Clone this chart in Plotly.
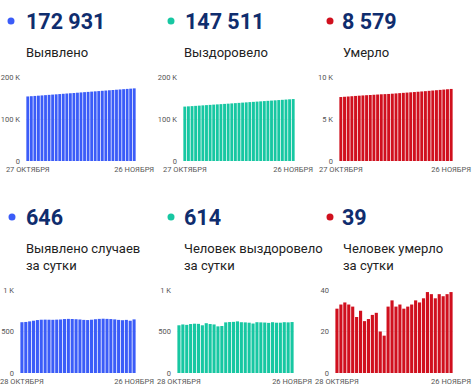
import plotly.graph_objects as go

W, H = 473, 392

# ---------------- data ----------------
dates_total = ["27 октября"] + [f"{d} октября" for d in range(28, 32)] + [f"{d} ноября" for d in range(1, 27)]
dates_daily = dates_total[1:]

detected_total = [153698, 154310, 154925, 155547, 156177, 156815, 157457, 158100, 158742, 159383,
                  160026, 160671, 161321, 161973, 162624, 163272, 163917, 164557, 165195, 165837,
                  166485, 167137, 167791, 168443, 169093, 169739, 170379, 171015, 171655, 172285, 172931]
recovered_total = [129537, 130112, 130697, 131277, 131867, 132461, 133053, 133628, 134228, 134818,
                   135403, 135965, 136531, 137141, 137755, 138371, 138993, 139605, 140215, 140821,
                   141417, 142029, 142639, 143247, 143851, 144463, 145069, 145675, 146287, 146897, 147511]
deaths_total = [7615, 7646, 7679, 7713, 7746, 7778, 7805, 7835, 7860, 7886, 7914, 7943, 7963, 7981,
                8013, 8048, 8080, 8113, 8144, 8176, 8209, 8244, 8278, 8314, 8353, 8391, 8427, 8465,
                8502, 8540, 8579]

detected_daily = [612, 615, 622, 630, 638, 642, 643, 642, 641, 643, 645, 650, 652, 651, 648,
                  645, 640, 638, 642, 648, 652, 654, 652, 650, 646, 640, 636, 640, 630, 646]
recovered_daily = [575, 585, 580, 590, 594, 592, 575, 600, 590, 585, 562, 566, 610, 614, 616,
                   622, 612, 610, 606, 596, 612, 610, 608, 604, 612, 606, 606, 612, 610, 614]
deaths_daily = [31, 33, 34, 33, 32, 27, 30, 25, 26, 28, 29, 20, 18, 32, 35, 32, 33, 31, 32, 33,
                35, 34, 36, 39, 38, 36, 38, 37, 38, 39]

headline_values = ["172 931", "147 511", "8 579", "646", "614", "39"]
headline_labels = ["Выявлено", "Выздоровело", "Умерло",
                   "Выявлено случаев<br>за сутки", "Человек выздоровело<br>за сутки",
                   "Человек умерло<br>за сутки"]

x_ticktext_total = ["27 ОКТЯБРЯ", "26 НОЯБРЯ"]
x_ticktext_daily = ["28 ОКТЯБРЯ", "26 НОЯБРЯ"]

y_ticks = [
    ([0, 100000, 200000], ["0", "100 K", "200 K"], 200000),
    ([0, 100000, 200000], ["0", "100 K", "200 K"], 200000),
    ([0, 5000, 10000], ["0", "5 K", "10 K"], 10000),
    ([0, 500, 1000], ["0", "500", "1 K"], 1000),
    ([0, 500, 1000], ["0", "500", "1 K"], 1000),
    ([0, 20, 40], ["0", "20", "40"], 40),
]

# ---------------- style ----------------
BLUE = "#3b5cf8"
TEAL = "#17c7a2"
RED = "#d0101e"
NAVY = "#0f2d6e"
colors = [BLUE, TEAL, RED, BLUE, TEAL, RED]
FONT = "Roboto"

series = [
    (dates_total, detected_total, x_ticktext_total),
    (dates_total, recovered_total, x_ticktext_total),
    (dates_total, deaths_total, x_ticktext_total),
    (dates_daily, detected_daily, x_ticktext_daily),
    (dates_daily, recovered_daily, x_ticktext_daily),
    (dates_daily, deaths_daily, x_ticktext_daily),
]

# pixel layout
plot_x = [(26, 136), (183, 295), (339, 453), (20, 136), (177, 294), (335, 453)]
plot_y = [(77, 161), (77, 161), (77, 161), (290, 373), (290, 373), (290, 373)]
num_x = [24, 183, 340, 24, 182, 340]
dot_x = [11, 171, 330, 12, 171, 330]
row_num_y = [21, 21, 21, 217, 217, 217]
label_x = [25, 183, 342, 25, 183, 342]
label_y = [43, 43, 43, 239, 239, 239]


def px(x):
    return x / W


def py(y):
    return 1 - y / H


fig = go.Figure()
layout = dict(
    template="none",
    width=W, height=H, margin=dict(l=0, r=0, t=0, b=0, pad=0),
    paper_bgcolor="white", plot_bgcolor="white", showlegend=False,
    font=dict(family=FONT, size=8, color="#555"),
    annotations=[], shapes=[],
)

for i, (cats, vals, xtt) in enumerate(series):
    n = i + 1
    xa = "x" if n == 1 else f"x{n}"
    ya = "y" if n == 1 else f"y{n}"
    fig.add_trace(go.Bar(x=cats, y=vals, marker=dict(color=colors[i], line=dict(width=0)),
                         xaxis=xa, yaxis=ya, hoverinfo="skip"))
    tv, tt, top = y_ticks[i]
    layout[f"xaxis{n if n > 1 else ''}"] = dict(
        domain=[px(plot_x[i][0]), px(plot_x[i][1])], anchor=ya, automargin=False,
        type="category", tickmode="array", tickvals=[cats[0], cats[-1]], ticktext=xtt,
        showgrid=False, showline=False, zeroline=False, ticks="",
        tickfont=dict(size=7.5, color="#555"), ticklabelstandoff=2,
    )
    layout[f"yaxis{n if n > 1 else ''}"] = dict(
        domain=[py(plot_y[i][1]), py(plot_y[i][0])], anchor=xa, automargin=False,
        range=[0, top], tickmode="array", tickvals=tv, ticktext=tt,
        showgrid=True, gridcolor="#eeeeee", gridwidth=1, zeroline=False, showline=False,
        ticks="", tickfont=dict(size=7.5, color="#555"), ticklabelstandoff=5,
    )
    layout["annotations"].append(dict(
        text=f"<b>{headline_values[i]}</b>", x=px(num_x[i]), y=py(row_num_y[i]),
        xref="paper", yref="paper", xanchor="left", yanchor="middle", showarrow=False,
        font=dict(family=FONT, size=21.5, color=NAVY),
    ))
    layout["annotations"].append(dict(
        text=headline_labels[i], x=px(label_x[i] - 1), y=py(label_y[i]),
        xref="paper", yref="paper", xanchor="left", yanchor="top", showarrow=False,
        align="left", font=dict(family=FONT, size=13, color="#222"),
    ))
    r = 3.5
    layout["shapes"].append(dict(
        type="circle", xref="paper", yref="paper",
        x0=px(dot_x[i] - r), x1=px(dot_x[i] + r), y0=py(row_num_y[i] + r), y1=py(row_num_y[i] - r),
        fillcolor=colors[i], line=dict(width=0),
    ))

layout["bargap"] = 0.2
fig.update_layout(**layout)
fig.write_html("out.html", config={"displayModeBar": False, "staticPlot": True},
               post_script="document.body.style.margin='0';document.body.style.overflow='hidden';")
